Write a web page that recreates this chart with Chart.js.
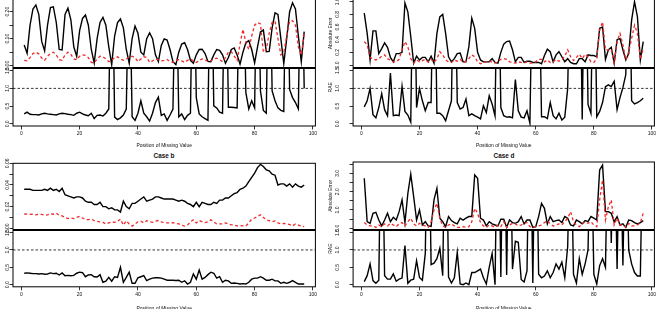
<!DOCTYPE html>
<html>
<head>
<meta charset="utf-8">
<script src="https://cdn.jsdelivr.net/npm/chart.js@4.4.1/dist/chart.umd.min.js"></script>
<style>
  body { margin: 0; background: #fff; width: 656px; height: 309px; overflow: hidden; position: relative; }
  canvas { position: absolute; }
  .case { position: absolute; top: 152px; font: bold 6.4px "Liberation Sans", Arial, sans-serif; color: #111; transform: translateX(-50%); white-space: nowrap; }
</style>
</head>
<body>
<div class="case" style="left:164px">Case b</div>
<div class="case" style="left:504px">Case d</div>
<script>
// positions of the missing value (x axis)
const positions = Array.from({ length: 97 }, (_, i) => i + 1);

// Case a
const aBlack = [0.077,0.046,0.15,0.21,0.225,0.19,0.09,0.055,0.15,0.215,
  0.218,0.16,0.06,0.058,0.19,0.213,0.17,0.07,0.035,0.13,
  0.175,0.188,0.15,0.06,0.01,0.10,0.16,0.179,0.15,0.07,
  0.004,0.11,0.16,0.173,0.14,0.06,0.009,0.10,0.147,0.12,
  0.05,0.04,0.10,0.122,0.10,0.04,0.015,0.075,0.099,0.095,
  0.06,0.015,0.004,0.05,0.08,0.085,0.06,0.02,0.009,0.04,
  0.06,0.061,0.045,0.016,0.015,0.04,0.06,0.057,0.04,0.009,
  0.03,0.06,0.066,0.04,0.006,0.05,0.085,0.093,0.06,0.01,
  0.07,0.125,0.132,0.052,0.053,0.14,0.196,0.19,0.10,0.008,
  0.10,0.20,0.233,0.21,0.11,0.015,0.126];
const aRed = [0.02,0.018,0.03,0.045,0.05,0.044,0.028,0.02,0.035,0.045,
  0.05,0.04,0.022,0.02,0.04,0.05,0.042,0.025,0.022,0.035,
  0.04,0.038,0.03,0.012,0.01,0.025,0.035,0.033,0.025,0.015,
  0.02,0.03,0.033,0.025,0.02,0.025,0.032,0.035,0.03,0.015,
  0.025,0.033,0.03,0.012,0.018,0.025,0.022,0.018,0.02,0.023,
  0.015,0.012,0.02,0.022,0.018,0.012,0.02,0.025,0.018,0.012,
  0.02,0.025,0.022,0.015,0.018,0.025,0.028,0.022,0.015,0.03,
  0.05,0.052,0.035,0.02,0.08,0.135,0.085,0.06,0.11,0.15,
  0.16,0.155,0.05,0.06,0.12,0.16,0.165,0.10,0.04,0.05,
  0.11,0.165,0.167,0.15,0.07,0.04,0.12];
const aRae = [0.28,0.33,0.27,0.26,0.26,0.25,0.28,0.3,0.28,0.27,
  0.26,0.25,0.28,0.3,0.29,0.27,0.26,0.24,0.3,0.33,
  0.28,0.25,0.23,0.3,0.15,0.24,0.25,0.22,0.3,0.42,
  6,0.19,0.12,0.17,0.25,0.42,5,0.2,0.1,0.3,
  0.65,0.3,0.2,0.08,0.3,0.6,0.75,0.24,0.28,0.1,
  0.25,0.42,5,0.2,0.28,0.12,0.24,0.3,6,0.74,
  0.28,0.2,0.15,0.1,6,0.51,0.45,0.33,0.3,6,
  0.47,0.47,0.46,0.45,5,5,0.88,0.42,0.65,0.45,
  6,0.93,0.38,0.3,6,0.93,0.65,0.45,0.38,0.35,
  6,0.97,0.74,0.6,0.42,6,1.0];

// Case b
const bBlack = [0.036,0.036,0.036,0.035,0.035,0.035,0.035,0.036,0.035,0.037,
  0.035,0.036,0.034,0.037,0.031,0.030,0.029,0.028,0.029,0.029,
  0.028,0.025,0.024,0.024,0.022,0.022,0.024,0.02,0.02,0.018,
  0.019,0.017,0.017,0.015,0.025,0.020,0.018,0.023,0.023,0.025,
  0.027,0.029,0.025,0.026,0.027,0.029,0.029,0.028,0.027,0.027,
  0.027,0.027,0.026,0.025,0.026,0.025,0.023,0.022,0.02,0.024,
  0.02,0.024,0.023,0.022,0.022,0.024,0.023,0.026,0.026,0.028,
  0.028,0.03,0.032,0.033,0.036,0.037,0.039,0.043,0.047,0.051,
  0.056,0.059,0.057,0.054,0.053,0.050,0.049,0.040,0.041,0.041,
  0.039,0.041,0.038,0.041,0.039,0.038,0.040];
const bRed = [0.0132,0.013,0.0128,0.013,0.0125,0.013,0.0128,0.012,0.0125,0.0135,
  0.013,0.014,0.012,0.0115,0.01,0.009,0.0095,0.009,0.01,0.011,
  0.0095,0.008,0.008,0.0085,0.007,0.0065,0.006,0.0055,0.004,0.005,
  0.006,0.0055,0.0065,0.0085,0.003,0.007,0.004,0.002,0.004,0.006,
  0.0065,0.005,0.007,0.006,0.0055,0.0065,0.0072,0.006,0.0052,0.005,
  0.005,0.0052,0.0045,0.004,0.003,0.002,0.003,0.006,0.0078,0.005,
  0.0072,0.006,0.0052,0.006,0.0078,0.006,0.004,0.004,0.004,0.005,
  0.004,0.0032,0.003,0.0022,0.0025,0.0022,0.002,0.005,0.0085,0.0095,
  0.011,0.0125,0.01,0.008,0.007,0.006,0.0068,0.005,0.004,0.0045,
  0.004,0.0035,0.0022,0.004,0.003,0.002,0.0015];
const bRae = [0.33,0.34,0.33,0.32,0.32,0.31,0.32,0.3,0.31,0.34,
  0.32,0.33,0.28,0.34,0.26,0.27,0.26,0.27,0.33,0.36,
  0.35,0.23,0.28,0.29,0.23,0.22,0.29,0.07,0.1,0.21,
  0.1,0.23,0.21,0.5,0.07,0.21,0.36,0.04,0.04,0.2,
  0.23,0.26,0.12,0.16,0.19,0.2,0.2,0.19,0.16,0.13,
  0.13,0.13,0.12,0.13,0.07,0.11,0.02,0.07,0.31,0.16,
  0.42,0.16,0.21,0.29,0.36,0.33,0.19,0.23,0.07,0.13,
  0.11,0.04,0.05,0.04,0.02,0.03,0.02,0.07,0.16,0.19,
  0.19,0.23,0.19,0.13,0.13,0.16,0.11,0.11,0.04,0.07,
  0.04,0.07,0.12,0.07,0.02,0.02,0.02];

// Case c
const cBlack = [0.82,0.5,0.08,0.54,0.54,0.18,0.26,0.35,0.28,0.12,
  0.05,0.18,0.18,0.2,0.98,0.84,0.45,0.03,0.14,0.08,
  0.12,0.12,0.05,0.14,0.03,0.5,0.76,0.8,0.5,0.13,
  0.05,0.1,0.18,0.19,0.05,0.05,0.29,0.74,0.58,0.2,
  0.08,0.05,0.05,0.05,0.1,0.04,0.03,0.2,0.33,0.37,
  0.38,0.24,0.05,0.12,0.12,0.04,0.06,0.06,0.04,0.04,
  0.04,0.02,0.15,0.25,0.21,0.05,0.16,0.21,0.13,0.05,
  0.1,0.04,0.02,0.02,0.1,0.1,0.05,0.16,0.15,0.15,
  0.13,0.58,0.6,0.09,0.24,0.28,0.03,0.4,0.42,0.24,
  0.08,0.18,0.71,1.0,0.76,0.08,0.37];
const cRed = [0.37,0.32,0.12,0.1,0.08,0.1,0.14,0.16,0.1,0.08,
  0.05,0.05,0.09,0.24,0.37,0.29,0.1,0.03,0.08,0.05,
  0.07,0.09,0.05,0.09,0.04,0.1,0.21,0.16,0.08,0.05,
  0.04,0.08,0.06,0.09,0.04,0.06,0.1,0.16,0.13,0.05,
  0.02,0.04,0.05,0.07,0.04,0.03,0.05,0.09,0.1,0.09,
  0.05,0.04,0.03,0.05,0.04,0.03,0.05,0.03,0.03,0.05,
  0.09,0.09,0.05,0.08,0.04,0.05,0.09,0.06,0.08,0.14,
  0.24,0.13,0.07,0.12,0.17,0.1,0.17,0.13,0.05,0.04,
  0.1,0.55,0.68,0.24,0.24,0.25,0.03,0.37,0.5,0.32,
  0.08,0.21,0.42,0.63,0.5,0.09,0.26];
const cRae = [0.48,0.65,1.0,0.26,0.17,0.46,0.85,0.4,0.23,1.43,
  0.23,0.25,0.23,1.06,0.35,0.25,0.05,6,0.46,1.0,
  0.65,0.37,0.6,0.6,6,0.3,0.3,0.23,0.09,0.37,
  0.65,6,0.6,0.42,0.46,0.7,0.23,0.28,0.23,0.19,
  0.14,0.51,0.32,0.79,0.56,0.23,6,0.46,0.23,0.19,
  0.2,0.17,1.25,0.37,0.19,0.17,0.37,0.02,5,6,
  5,0.2,0.2,0.15,0.6,0.23,0.14,0.3,0.11,0.19,
  1.0,5,6,5,6,0.12,6,0.55,0.3,6,
  0.2,0.35,0.6,1.05,1.1,1.05,1.2,0.4,0.74,1.02,
  1.39,6,0.65,0.56,0.6,0.65,0.72];

// Case d
const dBlack = [2.73,0.36,0.27,0.82,0.87,0.45,0.13,0.45,0.82,0.36,
  0.6,0.45,0.91,1.55,0.31,1.9,2.96,1.73,0.45,1.0,
  0.18,0.36,0.13,0.1,1.55,2.18,0.55,0.36,0.09,0.64,
  0.42,0.31,0.24,0.55,0.45,0.55,0.64,0.64,2.91,2.73,
  0.55,0.45,0.13,0.36,0.24,0.18,0.13,0.49,0.49,0.05,
  0.45,0.31,0.27,0.36,0.64,0.24,0.45,0.45,0.05,0.09,
  0.64,1.36,1.09,0.24,0.64,0.36,0.42,0.45,0.31,0.64,
  0.55,0.18,0.13,0.45,0.36,0.24,0.42,0.36,0.64,0.55,
  0.45,3.18,3.45,0.91,0.91,0.82,0.36,0.64,0.18,0.24,
  0.05,0.45,0.42,0.31,0.24,0.31,0.42];
const dRed = [0.31,0.18,0.13,0.13,0.05,0.18,0.09,0.24,0.13,0.27,
  0.18,0.09,0.24,0.31,0.13,0.36,0.55,0.24,0.13,0.27,
  0.18,0.13,0.05,0.36,1.0,1.36,0.55,0.13,0.05,0.18,
  0.24,0.13,0.05,0.05,0.09,0.05,0.09,0.36,1.09,0.82,
  0.31,0.13,0.05,0.18,0.13,0.05,0.18,0.09,0.36,0.05,
  0.18,0.27,0.24,0.13,0.18,0.27,0.31,0.09,0.05,0.09,
  0.13,0.18,0.31,0.42,0.24,0.13,0.18,0.24,0.18,0.36,
  0.55,0.91,0.36,0.18,0.09,0.24,0.36,0.27,0.36,0.18,
  0.09,1.55,2.64,0.45,1.18,1.55,0.18,0.55,0.18,0.18,
  0.05,0.27,0.13,0.13,0.18,0.31,0.82];
const dRae = [0.09,0.26,0.6,0.12,0.04,0.13,6,0.26,0.16,0.16,
  0.31,0.1,0.16,0.19,1.13,0.04,0.13,0.16,0.69,0.21,
  0.13,0.9,6,0.58,0.62,0.75,1.05,0.26,6,0.22,
  0.05,0.2,0.93,0.02,0.0,0.05,0.0,0.35,0.35,0.4,
  0.45,0.2,0.02,0.5,0.9,0.0,6,0.22,6,0.28,
  6,0.45,1.25,1.22,0.15,0.08,0.4,6,0.05,6,
  0.3,0.2,0.25,0.4,0.2,0.35,0.6,0.45,0.65,0.2,
  1.1,5,0.3,0.05,0.75,0.3,0.6,1.0,5,0.3,
  0.02,0.55,0.75,0.5,5,1.2,5,0.45,5,0.55,
  5,1.0,0.6,0.35,0.25,0.25,5];

// reference level in the RAE panels
const raeRef = 1.0;

// axis ticks
const xTicks = [0, 20, 40, 60, 80, 100];
const xMin = -2.84, xMax = 100.84;
const raeTicks = [0, 0.5, 1.0, 1.5];
const raeLabels = ['0.0', '0.5', '1.0', '1.5'];
const aTicks = [0, 0.05, 0.10, 0.15, 0.20];
const aLabels = ['0.00', '', '0.10', '', '0.20'];
const bTicks = [0, 0.01, 0.02, 0.03, 0.04, 0.05, 0.06];
const bLabels = ['0.00', '', '0.02', '', '0.04', '', '0.06'];
const cTicks = [0, 0.2, 0.4, 0.6, 0.8, 1.0];
const cLabels = ['0.0', '0.2', '0.4', '0.6', '0.8', '1.0'];
const dTicks = [0, 0.5, 1.0, 1.5, 2.0, 2.5, 3.0, 3.5];
const dLabels = ['0.0', '', '1.0', '', '2.0', '', '3.0', ''];

const FONT = '"Liberation Sans", Arial, sans-serif';
Chart.defaults.font.family = FONT;

function pts(vals) {
  return positions.map((p, i) => ({ x: p, y: vals[i] }));
}

// frame, rotated y labels and y title drawn the R way
function rStyle(cfg) {
  return {
    id: 'rStyle',
    afterDraw(chart) {
      const { ctx, chartArea: a } = chart;
      const y = chart.scales.y;
      ctx.save();
      ctx.strokeStyle = '#000';
      ctx.lineWidth = 1;
      ctx.strokeRect(a.left, a.top, a.right - a.left, a.bottom - a.top);
      ctx.fillStyle = '#111';
      ctx.font = '5px ' + FONT;
      ctx.textAlign = 'center';
      ctx.textBaseline = 'middle';
      cfg.ticks.forEach((v, i) => {
        if (!cfg.labels[i]) return;
        ctx.save();
        ctx.translate(cfg.labelX, y.getPixelForValue(v));
        ctx.rotate(-Math.PI / 2);
        ctx.fillText(cfg.labels[i], 0, 0);
        ctx.restore();
      });
      if (cfg.title) {
        ctx.save();
        ctx.translate(cfg.titleX, (a.top + a.bottom) / 2 + (cfg.titleShift || 0));
        ctx.rotate(-Math.PI / 2);
        ctx.fillText(cfg.title, 0, 0);
        ctx.restore();
      }
      ctx.restore();
    }
  };
}

function addCanvas(x, y, w, h) {
  const c = document.createElement('canvas');
  c.width = w; c.height = h;
  c.style.left = x + 'px'; c.style.top = y + 'px';
  c.style.width = w + 'px'; c.style.height = h + 'px';
  document.body.appendChild(c);
  return c;
}

// p: { cx, cy, ch, left, right, top, bottom, min, max, ticks, labels, labelX, title, bottomAxis }
function subPanel(p, datasets) {
  const cw = 328;
  const canvas = addCanvas(p.cx, p.cy, cw, p.ch);
  const yWidth = p.left - p.cx;
  const xHeight = p.cy + p.ch - p.bottom;
  new Chart(canvas, {
    type: 'line',
    data: { datasets },
    options: {
      responsive: false,
      animation: false,
      events: [],
      layout: {
        padding: {
          left: 0,
          right: p.cx + cw - p.right,
          top: p.top - p.cy,
          bottom: p.bottomAxis ? 0 : xHeight
        }
      },
      plugins: { legend: { display: false }, tooltip: { enabled: false } },
      elements: { point: { radius: 0 }, line: { tension: 0 } },
      scales: {
        x: {
          type: 'linear',
          min: xMin,
          max: xMax,
          display: !!p.bottomAxis,
          afterBuildTicks: s => { s.ticks = xTicks.map(v => ({ value: v })); },
          afterFit: s => {
            s.height = p.bottomAxis ? xHeight : 0;
            s.paddingLeft = 0; s.paddingRight = 0;
          },
          border: { display: false },
          grid: { drawOnChartArea: false, drawTicks: true, tickLength: 3.5, color: '#000', lineWidth: 0.8 },
          ticks: { color: '#111', font: { size: 5 }, padding: 1.5, maxRotation: 0, autoSkip: false, callback: v => String(v) },
          title: { display: true, text: 'Position of Missing Value', color: '#111', font: { size: 5 }, padding: { top: 0, bottom: p.titlePad || 1 } }
        },
        y: {
          type: 'linear',
          min: p.min,
          max: p.max,
          afterBuildTicks: s => { s.ticks = p.ticks.map(v => ({ value: v })); },
          afterFit: s => { s.width = yWidth; s.paddingTop = 0; s.paddingBottom = 0; },
          border: { display: false },
          grid: { drawOnChartArea: false, drawTicks: true, tickLength: 3.5, color: '#000', lineWidth: 0.8 },
          ticks: { display: false }
        }
      }
    },
    plugins: [rStyle({
      ticks: p.ticks, labels: p.labels, labelX: p.labelX - p.cx,
      title: p.title, titleX: p.titleX - p.cx, titleShift: p.titleShift
    })]
  });
}

function errorSets(black, red) {
  return [
    { data: pts(red), borderColor: '#ee2a2a', borderWidth: 1.3, borderDash: [3, 2.5] },
    { data: pts(black), borderColor: '#000', borderWidth: 1.4 }
  ];
}

function raeSets(rae) {
  return [
    { data: [{ x: xMin, y: raeRef }, { x: xMax, y: raeRef }], borderColor: '#000', borderWidth: 0.8, borderDash: [2.5, 2] },
    { data: pts(rae), borderColor: '#000', borderWidth: 1.4 }
  ];
}

const L = { cx: 0, left: 13.0, right: 315.4, labelX: 8, titleX: -9 };
const R = { cx: 328, left: 353.1, right: 654.4, labelX: 338, titleX: 331 };

// Case a
subPanel({ ...L, cy: -4, ch: 80, top: -1, bottom: 67.5, min: -0.0067, max: 0.247,
  ticks: aTicks, labels: aLabels, title: 'Absolute Error' }, errorSets(aBlack, aRed));
subPanel({ ...L, cy: 62, ch: 88, top: 68.5, bottom: 126, min: -0.06, max: 1.56,
  ticks: raeTicks, labels: raeLabels, title: 'RAE', titleShift: -10, bottomAxis: true }, raeSets(aRae));

// Case c
subPanel({ ...R, cy: -4, ch: 80, top: -1, bottom: 67.5, min: -0.0395, max: 1.043,
  ticks: cTicks, labels: cLabels, title: 'Absolute Error' }, errorSets(cBlack, cRed));
subPanel({ ...R, cy: 62, ch: 88, top: 68.5, bottom: 126, min: -0.06, max: 1.56,
  ticks: raeTicks, labels: raeLabels, title: 'RAE', titleShift: -10, bottomAxis: true }, raeSets(cRae));

// Case b
subPanel({ ...L, cy: 157, ch: 78, top: 163.3, bottom: 229.5, min: -0.0011, max: 0.060,
  ticks: bTicks, labels: bLabels, title: 'Absolute Error' }, errorSets(bBlack, bRed));
subPanel({ ...L, cy: 224, ch: 88, top: 230.5, bottom: 286.8, min: -0.06, max: 1.56,
  ticks: raeTicks, labels: raeLabels, title: 'RAE', titleShift: -10, bottomAxis: true, titlePad: 0.7 }, raeSets(bRae));

// Case d
subPanel({ ...R, cy: 157, ch: 78, top: 162, bottom: 229.5, min: -0.066, max: 3.62,
  ticks: dTicks, labels: dLabels, title: 'Absolute Error' }, errorSets(dBlack, dRed));
subPanel({ ...R, cy: 224, ch: 88, top: 230.5, bottom: 286.8, min: -0.06, max: 1.56,
  ticks: raeTicks, labels: raeLabels, title: 'RAE', titleShift: -10, bottomAxis: true, titlePad: 0.7 }, raeSets(dRae));
</script>
</body>
</html>
